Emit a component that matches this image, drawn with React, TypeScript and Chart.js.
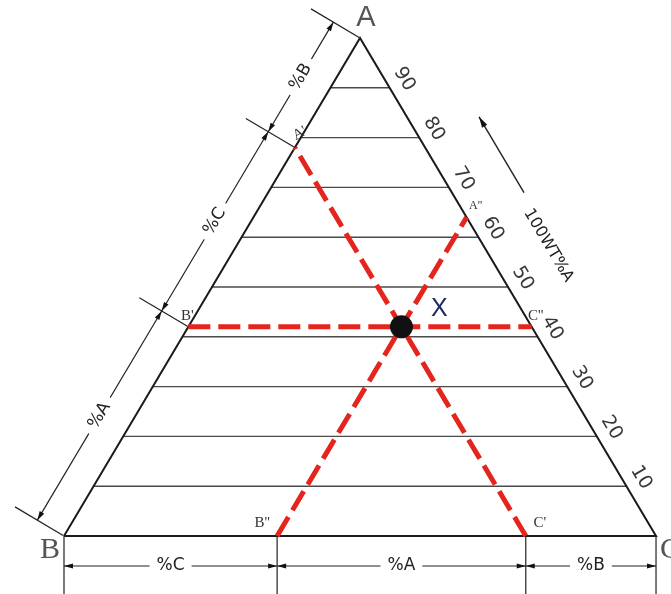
import React, { useEffect, useRef } from "react";
import { Chart, registerables } from "chart.js";

Chart.register(...registerables);

// ---------------- data ----------------
const vertexLabels = ["A", "B", "C"];
const gridLevels = [10, 20, 30, 40, 50, 60, 70, 80, 90]; // %A levels
const tickLabels = ["10", "20", "30", "40", "50", "60", "70", "80", "90"];
const composition = [42, 22, 36]; // point X : [%A, %B, %C]
const pointLabel = ["X"];
const axisTitle = ["100WT%A"];
const leftDimLabels = ["%A", "%C", "%B"];
const bottomDimLabels = ["%C", "%A", "%B"];
const markerLabels = ["A'", "A''", "B'", "B''", "C'", "C''"];

// ternary (a = %A, c = %C) -> cartesian in % units
const toXY = (a: number, c: number) => ({ x: c + a / 2, y: a });

const RED = "#e5251d";

function lineDs(pts: { x: number; y: number }[], color: string, width: number, order: number, dash: number[] = []) {
  return {
    type: "scatter" as const,
    data: pts,
    showLine: true,
    borderColor: color,
    backgroundColor: color,
    borderWidth: width,
    borderDash: dash,
    pointRadius: 0,
    fill: false,
    tension: 0,
    order,
  };
}

const overlay = {
  id: "overlay",
  afterDatasetsDraw(chart: any) {
    const ctx: CanvasRenderingContext2D = chart.ctx;
    const sx = chart.scales.x;
    const sy = chart.scales.y;
    const P = (a: number, c: number) => ({
      x: sx.getPixelForValue(c + a / 2),
      y: sy.getPixelForValue(a),
    });
    const [a, b, c] = composition;
    const pA = P(100, 0);
    const pB = P(0, 0);
    const pC = P(0, 100);

    const norm = (v: { x: number; y: number }) => {
      const l = Math.hypot(v.x, v.y);
      return { x: v.x / l, y: v.y / l };
    };
    const add = (p: any, v: any, k: number) => ({ x: p.x + v.x * k, y: p.y + v.y * k });

    const text = (s: string, x: number, y: number, font: string, color: string, angle = 0, bg = false) => {
      ctx.save();
      ctx.translate(x, y);
      ctx.rotate(angle);
      ctx.font = font;
      ctx.textAlign = "center";
      ctx.textBaseline = "middle";
      if (bg) {
        const w = ctx.measureText(s).width + 14;
        ctx.fillStyle = "#fff";
        ctx.fillRect(-w / 2, -8, w, 16);
      }
      ctx.fillStyle = color;
      ctx.fillText(s, 0, 0);
      ctx.restore();
    };
    const line = (p: any, q: any, w = 1.2, color = "#222") => {
      ctx.save();
      ctx.strokeStyle = color;
      ctx.lineWidth = w;
      ctx.beginPath();
      ctx.moveTo(p.x, p.y);
      ctx.lineTo(q.x, q.y);
      ctx.stroke();
      ctx.restore();
    };
    const arrow = (tip: any, dir: any, L = 9, W = 2.6) => {
      ctx.save();
      ctx.fillStyle = "#111";
      ctx.beginPath();
      ctx.moveTo(tip.x, tip.y);
      ctx.lineTo(tip.x - dir.x * L - dir.y * W, tip.y - dir.y * L + dir.x * W);
      ctx.lineTo(tip.x - dir.x * L + dir.y * W, tip.y - dir.y * L - dir.x * W);
      ctx.closePath();
      ctx.fill();
      ctx.restore();
    };

    // ---- right edge: tick labels, title, arrow ----
    const uR = norm({ x: pC.x - pA.x, y: pC.y - pA.y });
    const nR = { x: uR.y, y: -uR.x };
    const angR = Math.atan2(uR.y, uR.x);
    gridLevels.forEach((lv, i) => {
      const e = add(P(lv, 100 - lv), nR, 17);
      text(tickLabels[i], e.x, e.y, "19px 'DejaVu Sans'", "#3a3a3a", angR);
    });
    const tPos = add(P(52.6, 47.4), nR, 56);
    text(axisTitle[0], tPos.x, tPos.y, "16px 'DejaVu Sans'", "#222", angR);
    const arrFrom = add(P(62.6, 37.4), nR, 62);
    const arrTip = add(P(77.8, 22.2), nR, 62);
    line(arrFrom, arrTip, 1.4);
    arrow(arrTip, { x: -uR.x, y: -uR.y }, 11, 3);

    // ---- left dimension ----
    const uL = norm({ x: pA.x - pB.x, y: pA.y - pB.y });
    const nL = { x: uL.y, y: -uL.x };
    const angL = Math.atan2(uL.y, uL.x);
    const leftMarks = [0, a, 100 - b, 100].map((v) => P(v, 0));
    leftMarks.forEach((p) => line(add(p, nL, 1), add(p, nL, 57), 1.2));
    for (let i = 0; i < 3; i++) {
      const q0 = add(leftMarks[i], nL, 31);
      const q1 = add(leftMarks[i + 1], nL, 31);
      line(q0, q1, 1.2);
      arrow(q0, { x: -uL.x, y: -uL.y });
      arrow(q1, uL);
      text(leftDimLabels[i], (q0.x + q1.x) / 2, (q0.y + q1.y) / 2, "17px 'DejaVu Sans'", "#222", angL, true);
    }

    // ---- bottom dimension ----
    const botMarks = [0, c, 100 - b, 100].map((v) => P(0, v));
    const yb = chart.height;
    botMarks.forEach((p) => line({ x: p.x, y: p.y }, { x: p.x, y: yb }, 1.2));
    for (let i = 0; i < 3; i++) {
      const q0 = { x: botMarks[i].x, y: botMarks[i].y + 30 };
      const q1 = { x: botMarks[i + 1].x, y: botMarks[i + 1].y + 30 };
      line(q0, q1, 1.2);
      arrow(q0, { x: -1, y: 0 });
      arrow(q1, { x: 1, y: 0 });
      text(bottomDimLabels[i], (q0.x + q1.x) / 2, q0.y, "17px 'DejaVu Sans'", "#222", 0, true);
    }

    // ---- vertex labels ----
    text(vertexLabels[0], pA.x + 6, pA.y - 20, "29px 'Liberation Sans'", "#555");
    text(vertexLabels[1], pB.x - 14, pB.y + 14, "30px 'Liberation Serif'", "#555");
    text(vertexLabels[2], pC.x + 14, pC.y + 14, "30px 'Liberation Serif'", "#555");

    // ---- marker labels ----
    const mf = "15px 'Liberation Serif'";
    const mA1 = P(100 - b, 0);
    text(markerLabels[0], mA1.x + 5, mA1.y - 14, mf, "#333", -0.5);
    const mA2 = P(100 - c, c);
    text(markerLabels[1], mA2.x + 9, mA2.y - 11, "12px 'Liberation Serif'", "#333");
    const mB1 = P(a, 0);
    text(markerLabels[2], mB1.x - 1, mB1.y - 11, mf, "#333");
    const mB2 = P(0, c);
    text(markerLabels[3], mB2.x - 15, mB2.y - 13, mf, "#333");
    const mC1 = P(0, 100 - b);
    text(markerLabels[4], mC1.x + 14, mC1.y - 13, mf, "#333");
    const mC2 = P(a, 100 - a);
    text(markerLabels[5], mC2.x + 4, mC2.y - 11, mf, "#333");

    // ---- point label ----
    const px = P(a, c);
    text(pointLabel[0], px.x + 38, px.y - 18, "25px 'Liberation Sans'", "#1f2a66");
  },
};

export default function App() {
  const ref = useRef<HTMLCanvasElement | null>(null);
  useEffect(() => {
    if (!ref.current) return;
    const [a, b, c] = composition;
    const datasets: any[] = [];
    gridLevels.forEach((lv) => {
      datasets.push(lineDs([toXY(lv, 0), toXY(lv, 100 - lv)], "#4a4a4a", 1.4, 4));
    });
    datasets.push(lineDs([toXY(0, 0), toXY(0, 100), toXY(100, 0), toXY(0, 0)], "#1a1a1a", 2, 3));
    const dash = [22, 8];
    datasets.push(lineDs([toXY(a, 0), toXY(a, 100 - a)], RED, 5, 1, dash));
    datasets.push(lineDs([toXY(0, c), toXY(100 - c, c)], RED, 5, 1, dash));
    datasets.push(lineDs([toXY(0, 100 - b), toXY(100 - b, 0)], RED, 5, 1, dash));
    datasets.push({
      type: "scatter",
      data: [toXY(a, c)],
      pointRadius: 11.5,
      pointBorderWidth: 0,
      pointBackgroundColor: "#111",
      pointBorderColor: "#111",
      showLine: false,
      order: 0,
    });

    const chart = new Chart(ref.current, {
      type: "scatter",
      data: { datasets },
      options: {
        animation: false,
        responsive: false,
        events: [],
        layout: { padding: 0, autoPadding: false },
        plugins: { legend: { display: false }, tooltip: { enabled: false }, title: { display: false } },
        scales: {
          x: { type: "linear", min: -10.81, max: 102.53, display: false },
          y: { type: "linear", min: -11.65, max: 107.63, display: false },
        },
      },
      plugins: [overlay],
    } as any);
    return () => chart.destroy();
  }, []);

  return (
    <div style={{ position: "absolute", left: 0, top: 0, width: 671, height: 594, background: "#fff" }}>
      <canvas ref={ref} width={671} height={594} style={{ display: "block" }} />
    </div>
  );
}
